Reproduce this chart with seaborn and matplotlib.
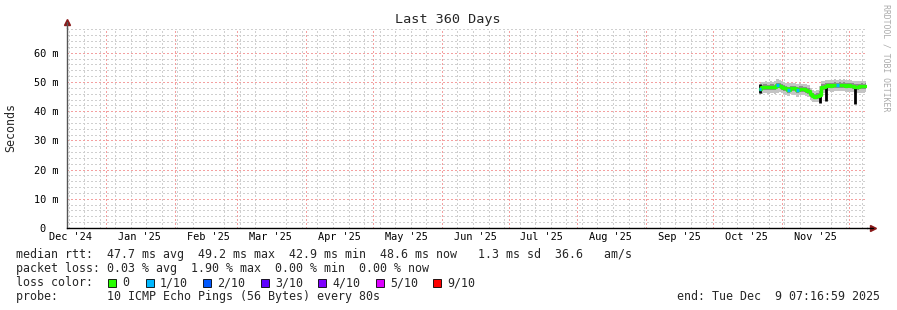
import matplotlib
matplotlib.use("Agg")
import matplotlib.pyplot as plt
import matplotlib.dates as mdates
from matplotlib.ticker import MultipleLocator, FuncFormatter
from matplotlib.patches import Rectangle
import numpy as np
import pandas as pd
import seaborn as sns

# ---------------- data ----------------
title = "Last 360 Days"
range_start = "2024-12-14 07:17"
range_end = "2025-12-09 07:17"
first_day = "2025-10-22"
last_day = "2025-12-09"

median_ms = [47.6, 48.2, 48.3, 48.3, 48.2, 48.4, 48.3, 48.2, 48.9, 48.8,
             48.4, 48.0, 47.9, 47.4, 47.9, 47.8, 47.8, 47.2, 47.6, 47.6,
             47.5, 47.3, 47.0, 46.0, 45.3, 45.0, 45.1, 45.5, 48.3, 48.4,
             48.8, 48.9, 48.8, 48.9, 49.0, 48.9, 49.1, 48.9, 49.0, 48.8,
             48.9, 48.8, 48.6, 48.3, 48.4, 48.5, 48.6, 48.5, 48.6]
smoke_hi_outer = [49.6, 50.0, 50.1, 50.2, 50.0, 50.3, 50.1, 50.2, 50.9, 50.6,
                  50.3, 49.9, 49.8, 49.6, 49.7, 49.7, 49.6, 49.4, 49.5, 49.4,
                  49.3, 49.2, 49.0, 48.0, 47.3, 47.0, 47.1, 48.5, 50.2, 50.3,
                  50.7, 50.8, 50.6, 50.8, 50.9, 50.8, 51.0, 50.8, 50.9, 50.7,
                  50.7, 50.6, 50.5, 50.3, 50.3, 50.4, 50.5, 50.4, 50.5]
smoke_lo_outer = [45.6, 46.0, 46.2, 46.1, 46.0, 46.3, 46.2, 46.0, 46.4, 46.5,
                  46.2, 45.8, 45.7, 45.2, 45.8, 45.6, 45.6, 45.0, 45.4, 45.5,
                  45.4, 45.1, 44.8, 43.9, 43.3, 43.0, 43.1, 43.2, 46.1, 46.3,
                  46.6, 46.8, 46.7, 46.7, 46.9, 46.8, 47.0, 46.8, 46.8, 46.6,
                  46.7, 46.7, 46.5, 45.8, 46.2, 46.3, 46.4, 46.4, 46.5]
smoke_hi_inner = [48.6, 49.1, 49.2, 49.2, 49.1, 49.3, 49.2, 49.1, 49.8, 49.7,
                  49.3, 48.9, 48.8, 48.4, 48.8, 48.7, 48.7, 48.2, 48.5, 48.5,
                  48.4, 48.2, 48.0, 47.0, 46.3, 46.0, 46.1, 46.8, 49.2, 49.3,
                  49.7, 49.8, 49.7, 49.8, 49.9, 49.8, 50.0, 49.8, 49.9, 49.7,
                  49.8, 49.7, 49.5, 49.3, 49.3, 49.4, 49.5, 49.4, 49.5]
smoke_lo_inner = [46.7, 47.2, 47.3, 47.3, 47.2, 47.4, 47.3, 47.2, 47.8, 47.8,
                  47.4, 47.0, 46.9, 46.4, 46.9, 46.8, 46.8, 46.2, 46.6, 46.6,
                  46.5, 46.3, 46.0, 45.0, 44.4, 44.1, 44.2, 44.4, 47.3, 47.4,
                  47.8, 47.9, 47.8, 47.9, 48.0, 47.9, 48.1, 47.9, 48.0, 47.8,
                  47.9, 47.8, 47.6, 47.2, 47.4, 47.5, 47.6, 47.5, 47.6]
loss_tenths = [1, 0, 0, 0, 0, 0, 0, 0, 1, 0,
               0, 0, 0, 1, 0, 0, 0, 1, 0, 0,
               0, 0, 0, 0, 0, 0, 0, 0, 0, 0,
               0, 0, 0, 0, 0, 1, 0, 0, 0, 0,
               0, 0, 0, 0, 0, 0, 0, 0, 0]
dip_days = ["2025-10-22", "2025-11-18", "2025-11-21", "2025-12-04"]
dip_low_ms = [46.2, 42.9, 43.6, 42.6]
dip_top_ms = [49.4, 45.5, 48.8, 48.3]

loss_labels = ["0", "1/10", "2/10", "3/10", "4/10", "5/10", "9/10"]
loss_colors = ["#26ff00", "#00b8ff", "#0059ff", "#5e00ff", "#7e00ff", "#dd00ff", "#ff0000"]

legend_rtt = "median rtt:  47.7 ms avg  49.2 ms max  42.9 ms min  48.6 ms now   1.3 ms sd  36.6   am/s"
legend_loss = "packet loss: 0.03 % avg  1.90 % max  0.00 % min  0.00 % now"
legend_probe = "probe:       10 ICMP Echo Pings (56 Bytes) every 80s"
legend_end = "end: Tue Dec  9 07:16:59 2025"
y_label = "Seconds"
watermark = "RRDTOOL / TOBI OETIKER"

# ---------------- figure ----------------
sns.set_style("white")
plt.rcParams["font.family"] = ["DejaVu Sans Mono", "DejaVu Sans"]

W, H = 897, 310
fig = plt.figure(figsize=(W / 100, H / 100), dpi=100)
fig.patch.set_facecolor("white")
ax = fig.add_axes([67 / W, 82 / H, 800 / W, 200 / H])
ax.set_facecolor("white")

days = pd.date_range(first_day, last_day, freq="D")
df = pd.DataFrame({
    "day": days, "median": median_ms,
    "hi_o": smoke_hi_outer, "lo_o": smoke_lo_outer,
    "hi_i": smoke_hi_inner, "lo_i": smoke_lo_inner,
    "loss": loss_tenths,
})

# smoke
ax.fill_between(df["day"], df["lo_o"], df["hi_o"], step="mid", color="#c4c4c4", lw=0, zorder=2)
ax.fill_between(df["day"], df["lo_i"], df["hi_i"], step="mid", color="#8c8c8c", lw=0, zorder=3)

# dips (black)
ax.vlines(pd.to_datetime(dip_days), dip_low_ms, dip_top_ms, color="black", lw=2.0, zorder=4)

# median line (0 loss colour)
sns.lineplot(data=df, x="day", y="median", ax=ax, color=loss_colors[0],
             lw=2.4, drawstyle="steps-mid", zorder=5)
# loss-coloured segments
half = pd.Timedelta(hours=12)
for d, m, l in zip(df["day"], df["median"], df["loss"]):
    if l > 0:
        ax.hlines(m, d - half, d + half, color=loss_colors[min(l, 6)], lw=2.4, zorder=6)

# axes limits
ax.set_xlim(pd.Timestamp(range_start), pd.Timestamp(range_end))
ax.set_ylim(0, 68.5)
ax.set_xlabel("")
ax.set_ylabel("")

# grid
minor_grid = dict(color="#cfcfcf", ls=(0, (1, 2)), lw=1.0, antialiased=False)
major_grid = dict(color="#f4a0a0", ls=(0, (1, 2)), lw=1.0, antialiased=False)
ax.set_axisbelow(True)
ax.xaxis.set_minor_locator(mdates.WeekdayLocator(byweekday=mdates.SU))
ax.xaxis.set_major_locator(mdates.MonthLocator(bymonthday=16))
ax.xaxis.set_major_formatter(mdates.DateFormatter("%b '%y"))
ax.grid(which="minor", axis="x", **minor_grid)
ax.grid(which="major", axis="x", visible=False)
for ms in pd.date_range("2025-01-01", "2025-12-01", freq="MS"):
    ax.axvline(ms, zorder=1, **major_grid)

ax.yaxis.set_major_locator(MultipleLocator(10))
ax.yaxis.set_minor_locator(MultipleLocator(2))
ax.yaxis.set_major_formatter(FuncFormatter(lambda v, p: "0  " if v == 0 else f"{int(v)} m"))
ax.grid(which="minor", axis="y", **minor_grid)
ax.grid(which="major", axis="y", **major_grid)

# spines / ticks
for s in ["top", "right"]:
    ax.spines[s].set_visible(False)
ax.spines["left"].set_color("#555555")
ax.spines["bottom"].set_color("black")
ax.spines["left"].set_linewidth(1.0)
ax.spines["bottom"].set_linewidth(1.0)
ax.tick_params(axis="x", which="major", length=0, pad=3, labelsize=7.4, colors="black")
ax.tick_params(axis="x", which="minor", length=0)
ax.tick_params(axis="y", which="major", length=3, width=0.8, pad=3, labelsize=7.4, colors="black", direction="out")
ax.tick_params(axis="y", which="minor", length=0)

# arrows
ax.plot([0], [1.03], marker="^", ms=4, color="#8b1a1a", transform=ax.transAxes, clip_on=False)
ax.plot([0, 0], [1.0, 1.03], color="#555555", lw=1.0, transform=ax.transAxes, clip_on=False)
ax.plot([1.0075], [0], marker=">", ms=4, color="#8b1a1a", transform=ax.transAxes, clip_on=False)
ax.plot([1.0, 1.0075], [0, 0], color="black", lw=1.0, transform=ax.transAxes, clip_on=False)

# title / labels
fig.text(448 / W, 1 - 19 / H, title, ha="center", va="center", fontsize=9.7)
fig.text(11 / W, 1 - 127 / H, y_label, ha="center", va="center", rotation=90, fontsize=8.4)
fig.text(886 / W, 1 - 4 / H, watermark, ha="center", va="top", rotation=270,
         fontsize=5.9, color="#aaaaaa")

# legend
fs = 8.4
fig.text(16 / W, 1 - 254.5 / H, legend_rtt, ha="left", va="center", fontsize=fs)
fig.text(16 / W, 1 - 268.5 / H, legend_loss, ha="left", va="center", fontsize=fs)
fig.text(16 / W, 1 - 282.5 / H, "loss color:", ha="left", va="center", fontsize=fs)
box_x = [108, 146, 203, 261, 318, 376, 433]
for bx, lab, col in zip(box_x, loss_labels, loss_colors):
    fig.patches.append(Rectangle((bx / W, 1 - 286.5 / H), 8 / W, 8 / H,
                                 transform=fig.transFigure, facecolor=col,
                                 edgecolor="black", lw=0.6))
    fig.text((bx + 14) / W, 1 - 282.5 / H, lab, ha="left", va="center", fontsize=fs)
fig.text(16 / W, 1 - 296.5 / H, legend_probe, ha="left", va="center", fontsize=fs)
fig.text(880 / W, 1 - 296.5 / H, legend_end, ha="right", va="center", fontsize=fs)

fig.savefig("out.png", dpi=100, facecolor="white")
